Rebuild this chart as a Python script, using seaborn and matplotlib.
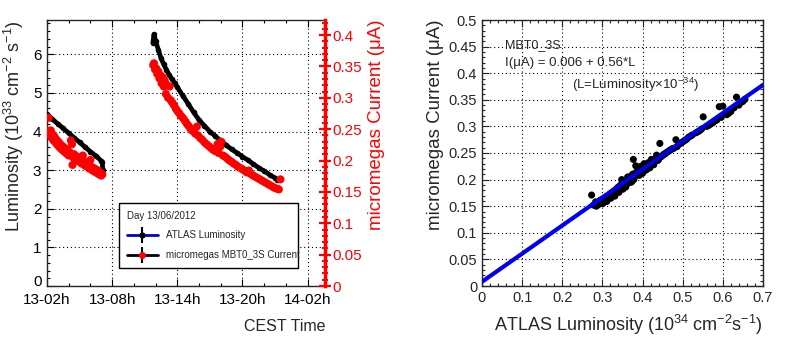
import numpy as np
import pandas as pd
import matplotlib
matplotlib.use("Agg")
import matplotlib.pyplot as plt
import seaborn as sns
from matplotlib.ticker import MultipleLocator, FuncFormatter
from matplotlib.lines import Line2D
from matplotlib.legend_handler import HandlerTuple

# ---------------- data ----------------
# hours since 13/06 02h CEST
lumi_t1 = [0.0, 0.5, 1.0, 1.5, 2.0, 2.5, 3.0, 3.5, 4.0, 4.5, 5.0, 5.08, 5.15]
lumi_v1 = [4.45, 4.32, 4.20, 4.08, 3.96, 3.84, 3.72, 3.60, 3.48, 3.37, 3.24, 3.20, 3.00]
lumi_t2 = [9.75, 9.85, 10.0, 10.25, 10.5, 10.75, 11.0, 11.25, 11.5, 11.75, 12.0, 12.5,
           13.0, 13.5, 14.0, 14.5, 15.0, 15.5, 16.0, 16.5, 17.0, 17.5, 18.0, 18.5,
           19.0, 19.5, 20.0, 20.5, 21.0, 21.2]
lumi_v2 = [6.30, 6.52, 6.35, 6.12, 5.90, 5.74, 5.60, 5.47, 5.36, 5.26, 5.15, 4.93,
           4.72, 4.50, 4.30, 4.15, 4.00, 3.88, 3.76, 3.65, 3.54, 3.45, 3.35, 3.26,
           3.16, 3.06, 2.98, 2.88, 2.80, 2.75]

cur_t = [0.0, 0.1, 0.15, 0.2, 0.3, 0.35, 0.45, 0.5, 0.6, 0.7, 0.8, 0.9, 1.0, 1.1, 1.2,
         1.3, 1.4, 1.5, 1.6, 1.7, 1.8, 1.9, 2.0, 2.1, 2.2, 2.3, 2.35, 2.4, 2.5, 2.6,
         2.7, 2.8, 2.9, 3.0, 3.1, 3.2, 3.3, 3.4, 3.5, 3.6, 3.7, 3.8, 3.9, 4.0, 4.1,
         4.2, 4.3, 4.4, 4.5, 4.6, 4.7, 4.8, 4.9, 5.0, 5.1,
         9.78, 9.85, 9.95, 10.05, 10.15, 10.25, 10.35, 10.45, 10.55, 10.65, 10.75,
         10.85, 10.95, 11.05, 11.15, 11.3, 11.4, 11.55, 11.7, 11.85, 12.0, 12.15,
         12.3, 12.45, 12.6, 12.75, 12.9, 13.05, 13.2, 13.35, 13.5, 13.65, 13.8,
         13.9, 14.1, 14.3, 14.5, 14.7, 14.9, 15.1, 15.3, 15.5, 15.7, 15.8, 15.95,
         16.05, 16.2, 16.4, 16.6, 16.8, 17.0, 17.2, 17.4, 17.6, 17.8, 18.0, 18.2,
         18.4, 18.6, 18.8, 19.0, 19.2, 19.4, 19.6, 19.8, 20.0, 20.2, 20.4, 20.6,
         20.8, 21.0, 21.2, 21.35, 21.5]
cur_v = [0.243, 0.247, 0.268, 0.245, 0.240, 0.248, 0.236, 0.242, 0.232, 0.238, 0.228,
         0.233, 0.224, 0.229, 0.220, 0.225, 0.217, 0.222, 0.214, 0.219, 0.211, 0.216,
         0.208, 0.213, 0.232, 0.226, 0.193, 0.205, 0.210, 0.203, 0.207, 0.200, 0.205,
         0.198, 0.202, 0.195, 0.208, 0.199, 0.192, 0.196, 0.190, 0.193, 0.187, 0.201,
         0.190, 0.184, 0.188, 0.182, 0.186, 0.180, 0.184, 0.178, 0.181, 0.176, 0.178,
         0.352, 0.355, 0.345, 0.347, 0.338, 0.342, 0.331, 0.336, 0.323, 0.333, 0.318,
         0.327, 0.306, 0.320, 0.300, 0.318, 0.296, 0.292, 0.288, 0.283, 0.279, 0.276,
         0.272, 0.269, 0.266, 0.262, 0.258, 0.255, 0.251, 0.248, 0.246, 0.243, 0.254,
         0.240, 0.236, 0.233, 0.229, 0.226, 0.223, 0.220, 0.217, 0.215, 0.226, 0.212,
         0.222, 0.230, 0.208, 0.206, 0.203, 0.200, 0.198, 0.195, 0.193, 0.190, 0.188,
         0.186, 0.184, 0.181, 0.184, 0.178, 0.176, 0.174, 0.172, 0.170, 0.168, 0.166,
         0.164, 0.162, 0.160, 0.158, 0.156, 0.155, 0.154, 0.170]

time_ticks = [0, 6, 12, 18, 24]
time_labels = ["13-02h", "13-08h", "13-14h", "13-20h", "14-02h"]

corr_lumi = [0.273, 0.278, 0.282, 0.285, 0.288, 0.290, 0.293, 0.296, 0.298, 0.300,
             0.303, 0.305, 0.308, 0.310, 0.313, 0.315, 0.318, 0.320, 0.323, 0.325,
             0.328, 0.330, 0.333, 0.335, 0.338, 0.340, 0.343, 0.345, 0.348, 0.350,
             0.353, 0.356, 0.360, 0.363, 0.366, 0.370, 0.373, 0.377, 0.380, 0.383,
             0.386, 0.390, 0.394, 0.398, 0.402, 0.406, 0.410, 0.415, 0.420, 0.425,
             0.430, 0.435, 0.440, 0.443, 0.448, 0.455, 0.462, 0.470, 0.478, 0.483,
             0.490, 0.498, 0.506, 0.515, 0.524, 0.533, 0.542, 0.551, 0.560, 0.570,
             0.580, 0.591, 0.600, 0.610, 0.620, 0.634, 0.645, 0.655,
             0.283, 0.287, 0.292, 0.295, 0.301, 0.306, 0.311, 0.316, 0.321, 0.326,
             0.331, 0.336, 0.341, 0.346, 0.351, 0.355, 0.358, 0.362, 0.368, 0.371,
             0.375, 0.378, 0.382, 0.388, 0.392, 0.396, 0.400, 0.404, 0.408, 0.412,
             0.418, 0.422, 0.428, 0.433, 0.438, 0.445, 0.452, 0.458, 0.466, 0.474,
             0.486, 0.494, 0.502, 0.510, 0.520, 0.538, 0.547, 0.565, 0.575, 0.585,
             0.596, 0.615, 0.628, 0.640, 0.650]
corr_cur = [0.171, 0.152, 0.155, 0.150, 0.157, 0.153, 0.160, 0.156, 0.162, 0.158,
            0.164, 0.160, 0.167, 0.163, 0.169, 0.165, 0.172, 0.168, 0.175, 0.171,
            0.178, 0.174, 0.181, 0.177, 0.185, 0.179, 0.188, 0.183, 0.200, 0.186,
            0.192, 0.189, 0.195, 0.205, 0.198, 0.202, 0.196, 0.238, 0.205, 0.226,
            0.209, 0.214, 0.211, 0.218, 0.215, 0.222, 0.219, 0.232, 0.226, 0.230,
            0.234, 0.246, 0.238, 0.268, 0.244, 0.248, 0.252, 0.256, 0.259, 0.275,
            0.266, 0.270, 0.274, 0.280, 0.284, 0.288, 0.292, 0.318, 0.300, 0.305,
            0.310, 0.337, 0.338, 0.322, 0.328, 0.355, 0.345, 0.351,
            0.158, 0.152, 0.156, 0.161, 0.155, 0.163, 0.159, 0.170, 0.165, 0.174,
            0.169, 0.182, 0.176, 0.190, 0.182, 0.197, 0.186, 0.192, 0.205, 0.195,
            0.210, 0.200, 0.212, 0.220, 0.208, 0.225, 0.212, 0.230, 0.218, 0.225,
            0.222, 0.238, 0.228, 0.240, 0.236, 0.243, 0.247, 0.250, 0.254, 0.258,
            0.262, 0.268, 0.272, 0.276, 0.282, 0.290, 0.295, 0.302, 0.307, 0.312,
            0.317, 0.325, 0.335, 0.340, 0.347]

fit_x = [0.0, 0.7]
fit_y = [0.008, 0.378]

# ---------------- style ----------------
sns.set_theme(style="ticks")
plt.rcParams['font.family'] = ['Liberation Sans', 'DejaVu Sans']
plt.rcParams['mathtext.default'] = 'regular'
plt.rcParams['axes.linewidth'] = 1.0

fmt = FuncFormatter(lambda v, p: f"{v:g}")
grid_kw = dict(color='black', linestyle=(0, (1, 2.5)), linewidth=0.8)

fig = plt.figure(figsize=(7.89, 3.44), dpi=100)
ax1 = fig.add_axes([47/789, 58/344, 278/789, 266/344])
ax3 = fig.add_axes([482/789, 58/344, 281/789, 266/344])

# ---------------- left panel ----------------
df1 = pd.DataFrame({"t": lumi_t1, "L": lumi_v1})
df2 = pd.DataFrame({"t": lumi_t2, "L": lumi_v2})
for d in (df1, df2):
    sns.lineplot(data=d, x="t", y="L", ax=ax1, color='black', lw=3.4, sort=False,
                 estimator=None, marker='o', markersize=4, markeredgewidth=0, zorder=3)
ax1.set_xlim(0, 25.6)
ax1.set_ylim(0, 6.89)
ax1.set_xticks(time_ticks)
ax1.set_xticklabels(time_labels)
ax1.xaxis.set_minor_locator(MultipleLocator(2))
ax1.yaxis.set_major_locator(MultipleLocator(1))
ax1.yaxis.set_minor_locator(MultipleLocator(0.2))
ax1.yaxis.set_major_formatter(fmt)
ax1.grid(True, which='major', **grid_kw)
ax1.set_axisbelow(True)
ax1.tick_params(which='both', direction='in', top=True, right=True, colors='black',
                labelsize=11)
ax1.tick_params(which='major', length=5, width=0.8)
ax1.tick_params(which='minor', length=2.5, width=0.8)
ax1.tick_params(axis='x', pad=5)
ax1.tick_params(axis='y', pad=4)
ax1.set_xlabel("CEST Time", fontsize=11.5, loc='right', labelpad=9)
ax1.set_ylabel("Luminosity (10$^{33}$ cm$^{-2}$ s$^{-1}$)", fontsize=13, loc='top',
               labelpad=5)

ax2 = ax1.twinx()
cdf = pd.DataFrame({"t": cur_t, "I": cur_v})
sns.scatterplot(data=cdf, x="t", y="I", ax=ax2, color='red', s=34, edgecolor='none',
                zorder=4)
ax2.set_ylim(0, 0.424)
ax2.yaxis.set_major_locator(MultipleLocator(0.05))
ax2.yaxis.set_minor_locator(MultipleLocator(0.01))
ax2.yaxis.set_major_formatter(fmt)
ax2.grid(False)
for s in ('left', 'top', 'bottom'):
    ax2.spines[s].set_visible(False)
ax2.spines['right'].set_color('red')
ax2.spines['right'].set_linewidth(2.5)
ax2.tick_params(axis='y', which='both', direction='inout', colors='red', labelsize=11,
                left=False, right=True)
ax2.tick_params(axis='y', which='major', length=9, width=1.6, pad=1)
ax2.tick_params(axis='y', which='minor', length=5, width=1.4)
ax2.set_ylabel("micromegas Current (μA)", fontsize=13.5, color='red', loc='top',
               labelpad=4)

h_lumi = (Line2D([], [], color='#0000cc', lw=2),
          Line2D([], [], marker='|', color='black', ms=11, mew=1.5, ls=''),
          Line2D([], [], marker='o', color='black', ms=3.5, ls=''))
h_cur = (Line2D([], [], color='black', lw=2),
         Line2D([], [], marker='|', color='black', ms=11, mew=1.5, ls=''),
         Line2D([], [], marker='o', color='red', ms=5, mew=0, ls=''))
leg = ax2.legend([h_lumi, h_cur], ["ATLAS Luminosity", "micromegas MBT0_3S Current"],
                 handler_map={tuple: HandlerTuple(ndivide=1, pad=0)},
                 title="Day 13/06/2012", title_fontsize=7, fontsize=7,
                 loc='lower left', bbox_to_anchor=(0.259, 0.068, 0.644, 0.252),
                 mode='expand', fancybox=False, framealpha=1, edgecolor='black',
                 handlelength=3.2, borderaxespad=0, labelspacing=1.0,
                 borderpad=0.8)
leg.get_frame().set_linewidth(1.0)
leg._legend_box.align = "left"

# ---------------- right panel ----------------
sdf = pd.DataFrame({"L": corr_lumi, "I": corr_cur})
sns.scatterplot(data=sdf, x="L", y="I", ax=ax3, color='black', s=26, edgecolor='none',
                zorder=3)
sns.lineplot(x=fit_x, y=fit_y, ax=ax3, color='#0000ee', lw=3, zorder=4)
ax3.set_xlim(0, 0.7)
ax3.set_ylim(0, 0.5)
ax3.xaxis.set_major_locator(MultipleLocator(0.1))
ax3.xaxis.set_minor_locator(MultipleLocator(0.02))
ax3.yaxis.set_major_locator(MultipleLocator(0.05))
ax3.yaxis.set_minor_locator(MultipleLocator(0.01))
ax3.xaxis.set_major_formatter(fmt)
ax3.yaxis.set_major_formatter(fmt)
ax3.grid(True, which='major', **grid_kw)
ax3.set_axisbelow(True)
ax3.tick_params(which='both', direction='in', top=True, right=True, labelsize=10.5)
ax3.tick_params(which='major', length=5, width=0.8)
ax3.tick_params(which='minor', length=2.5, width=0.8)
ax3.set_xlabel("ATLAS Luminosity (10$^{34}$ cm$^{-2}$s$^{-1}$)", fontsize=13,
               loc='right', labelpad=6)
ax3.set_ylabel("micromegas Current (μA)", fontsize=13.5, loc='top', labelpad=3)

ax3.text(0.057, 0.453, "MBT0_3S", fontsize=9, va='center', ha='left')
ax3.text(0.057, 0.419, "I(μA) = 0.006 + 0.56*L", fontsize=9.5, va='center', ha='left')
ax3.text(0.224, 0.378, "(L=Luminosity×10$^{-34}$)", fontsize=9.5, va='center', ha='left')

# lift the left-panel "0" label a little so it does not collide with "13-02h"
fig.canvas.draw()
for tk in ax1.yaxis.get_major_ticks():
    if abs(tk.get_loc()) < 1e-9:
        tk.label1.set_va('baseline')

fig.savefig("out.png", dpi=100)
